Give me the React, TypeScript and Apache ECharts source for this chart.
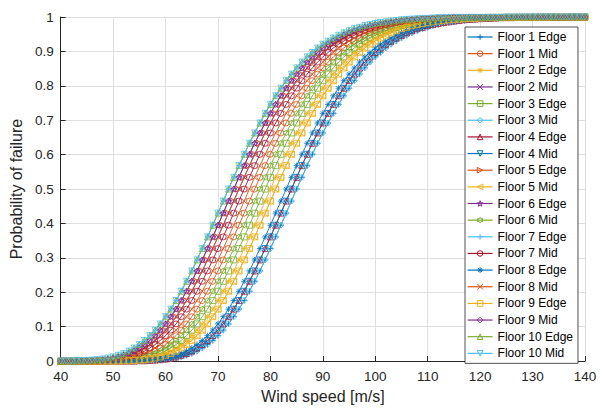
import React, { useEffect, useRef } from "react";
import * as echarts from "echarts";

const windSpeed = [
  40, 41, 42, 43, 44, 45, 46, 47, 48, 49, 50, 51, 52, 53, 54, 55, 56, 57, 58, 59,
  60, 61, 62, 63, 64, 65, 66, 67, 68, 69, 70, 71, 72, 73, 74, 75, 76, 77, 78, 79,
  80, 81, 82, 83, 84, 85, 86, 87, 88, 89, 90, 91, 92, 93, 94, 95, 96, 97, 98, 99,
  100, 101, 102, 103, 104, 105, 106, 107, 108, 109, 110, 111, 112, 113, 114, 115, 116, 117, 118, 119,
  120, 121, 122, 123, 124, 125, 126, 127, 128, 129, 130, 131, 132, 133, 134, 135, 136, 137, 138, 139, 140,
];

const seriesNames = [
  "Floor 1 Edge", "Floor 1 Mid", "Floor 2 Edge", "Floor 2 Mid", "Floor 3 Edge",
  "Floor 3 Mid", "Floor 4 Edge", "Floor 4 Mid", "Floor 5 Edge", "Floor 5 Mid",
  "Floor 6 Edge", "Floor 6 Mid", "Floor 7 Edge", "Floor 7 Mid", "Floor 8 Edge",
  "Floor 8 Mid", "Floor 9 Edge", "Floor 9 Mid", "Floor 10 Edge", "Floor 10 Mid",
];

const yTicks = [0, 0.1, 0.2, 0.3, 0.4, 0.5, 0.6, 0.7, 0.8, 0.9, 1];

// values, one per wind speed (40..140 m/s)
const floor1Edge = [
  0, 0, 0, 0, 0, 0, 0, 0, 0, 0, 0, 0, 0, 0,
  0, 0, 0.001, 0.001, 0.002, 0.003, 0.004, 0.006, 0.009, 0.012,
  0.017, 0.022, 0.029, 0.038, 0.048, 0.06, 0.074, 0.09, 0.108, 0.129,
  0.151, 0.176, 0.203, 0.232, 0.262, 0.294, 0.327, 0.361, 0.395, 0.43,
  0.465, 0.5, 0.534, 0.568, 0.601, 0.633, 0.663, 0.692, 0.72, 0.746,
  0.771, 0.793, 0.815, 0.834, 0.852, 0.869, 0.884, 0.897, 0.91, 0.921,
  0.93, 0.939, 0.947, 0.954, 0.96, 0.966, 0.97, 0.975, 0.978, 0.981,
  0.984, 0.986, 0.988, 0.99, 0.992, 0.993, 0.994, 0.995, 0.996, 0.996,
  0.997, 0.998, 0.998, 0.998, 0.999, 0.999, 0.999, 0.999, 0.999, 0.999,
  0.999, 0.999, 0.999, 0.999,
  1, 1, 1,
];
const floor1Mid = [
  0, 0, 0, 0, 0, 0,
  0, 0, 0.001, 0.001, 0.002, 0.003, 0.004, 0.006, 0.009, 0.012,
  0.017, 0.022, 0.029, 0.038, 0.048, 0.06, 0.074, 0.09, 0.108, 0.129,
  0.151, 0.176, 0.203, 0.232, 0.262, 0.294, 0.327, 0.361, 0.395, 0.43,
  0.465, 0.5, 0.534, 0.568, 0.601, 0.633, 0.663, 0.692, 0.72, 0.746,
  0.771, 0.793, 0.815, 0.834, 0.852, 0.869, 0.884, 0.897, 0.91, 0.921,
  0.93, 0.939, 0.947, 0.954, 0.96, 0.966, 0.97, 0.975, 0.978, 0.981,
  0.984, 0.986, 0.988, 0.99, 0.992, 0.993, 0.994, 0.995, 0.996, 0.996,
  0.997, 0.998, 0.998, 0.998, 0.999, 0.999, 0.999, 0.999, 0.999, 0.999,
  0.999, 0.999, 0.999, 0.999,
  1, 1, 1, 1, 1, 1, 1, 1, 1, 1, 1,
];
const floor2Edge = [
  0, 0, 0, 0, 0, 0, 0, 0, 0,
  0, 0, 0.001, 0.001, 0.002, 0.003, 0.004, 0.006, 0.009, 0.012,
  0.017, 0.022, 0.029, 0.038, 0.048, 0.06, 0.074, 0.09, 0.108, 0.129,
  0.151, 0.176, 0.203, 0.232, 0.262, 0.294, 0.327, 0.361, 0.395, 0.43,
  0.465, 0.5, 0.534, 0.568, 0.601, 0.633, 0.663, 0.692, 0.72, 0.746,
  0.771, 0.793, 0.815, 0.834, 0.852, 0.869, 0.884, 0.897, 0.91, 0.921,
  0.93, 0.939, 0.947, 0.954, 0.96, 0.966, 0.97, 0.975, 0.978, 0.981,
  0.984, 0.986, 0.988, 0.99, 0.992, 0.993, 0.994, 0.995, 0.996, 0.996,
  0.997, 0.998, 0.998, 0.998, 0.999, 0.999, 0.999, 0.999, 0.999, 0.999,
  0.999, 0.999, 0.999, 0.999,
  1, 1, 1, 1, 1, 1, 1, 1,
];
const floor2Mid = [
  0, 0, 0,
  0, 0, 0.001, 0.001, 0.002, 0.003, 0.004, 0.006, 0.009, 0.012,
  0.017, 0.022, 0.029, 0.038, 0.048, 0.06, 0.074, 0.09, 0.108, 0.129,
  0.151, 0.176, 0.203, 0.232, 0.262, 0.294, 0.327, 0.361, 0.395, 0.43,
  0.465, 0.5, 0.534, 0.568, 0.601, 0.633, 0.663, 0.692, 0.72, 0.746,
  0.771, 0.793, 0.815, 0.834, 0.852, 0.869, 0.884, 0.897, 0.91, 0.921,
  0.93, 0.939, 0.947, 0.954, 0.96, 0.966, 0.97, 0.975, 0.978, 0.981,
  0.984, 0.986, 0.988, 0.99, 0.992, 0.993, 0.994, 0.995, 0.996, 0.996,
  0.997, 0.998, 0.998, 0.998, 0.999, 0.999, 0.999, 0.999, 0.999, 0.999,
  0.999, 0.999, 0.999, 0.999,
  1, 1, 1, 1, 1, 1, 1, 1, 1, 1, 1, 1, 1, 1,
];
const floor3Edge = [
  0, 0, 0, 0, 0, 0, 0, 0,
  0, 0, 0.001, 0.001, 0.002, 0.003, 0.004, 0.006, 0.009, 0.012,
  0.017, 0.022, 0.029, 0.038, 0.048, 0.06, 0.074, 0.09, 0.108, 0.129,
  0.151, 0.176, 0.203, 0.232, 0.262, 0.294, 0.327, 0.361, 0.395, 0.43,
  0.465, 0.5, 0.534, 0.568, 0.601, 0.633, 0.663, 0.692, 0.72, 0.746,
  0.771, 0.793, 0.815, 0.834, 0.852, 0.869, 0.884, 0.897, 0.91, 0.921,
  0.93, 0.939, 0.947, 0.954, 0.96, 0.966, 0.97, 0.975, 0.978, 0.981,
  0.984, 0.986, 0.988, 0.99, 0.992, 0.993, 0.994, 0.995, 0.996, 0.996,
  0.997, 0.998, 0.998, 0.998, 0.999, 0.999, 0.999, 0.999, 0.999, 0.999,
  0.999, 0.999, 0.999, 0.999,
  1, 1, 1, 1, 1, 1, 1, 1, 1,
];
const floor3Mid = [
  0, 0, 0, 0, 0, 0, 0, 0, 0, 0, 0, 0, 0, 0,
  0, 0, 0.001, 0.001, 0.002, 0.003, 0.004, 0.006, 0.009, 0.012,
  0.017, 0.022, 0.029, 0.038, 0.048, 0.06, 0.074, 0.09, 0.108, 0.129,
  0.151, 0.176, 0.203, 0.232, 0.262, 0.294, 0.327, 0.361, 0.395, 0.43,
  0.465, 0.5, 0.534, 0.568, 0.601, 0.633, 0.663, 0.692, 0.72, 0.746,
  0.771, 0.793, 0.815, 0.834, 0.852, 0.869, 0.884, 0.897, 0.91, 0.921,
  0.93, 0.939, 0.947, 0.954, 0.96, 0.966, 0.97, 0.975, 0.978, 0.981,
  0.984, 0.986, 0.988, 0.99, 0.992, 0.993, 0.994, 0.995, 0.996, 0.996,
  0.997, 0.998, 0.998, 0.998, 0.999, 0.999, 0.999, 0.999, 0.999, 0.999,
  0.999, 0.999, 0.999, 0.999,
  1, 1, 1,
];
const floor4Edge = [
  0, 0, 0, 0, 0, 0, 0, 0, 0, 0, 0, 0, 0,
  0, 0, 0.001, 0.001, 0.002, 0.003, 0.004, 0.006, 0.009, 0.012,
  0.017, 0.022, 0.029, 0.038, 0.048, 0.06, 0.074, 0.09, 0.108, 0.129,
  0.151, 0.176, 0.203, 0.232, 0.262, 0.294, 0.327, 0.361, 0.395, 0.43,
  0.465, 0.5, 0.534, 0.568, 0.601, 0.633, 0.663, 0.692, 0.72, 0.746,
  0.771, 0.793, 0.815, 0.834, 0.852, 0.869, 0.884, 0.897, 0.91, 0.921,
  0.93, 0.939, 0.947, 0.954, 0.96, 0.966, 0.97, 0.975, 0.978, 0.981,
  0.984, 0.986, 0.988, 0.99, 0.992, 0.993, 0.994, 0.995, 0.996, 0.996,
  0.997, 0.998, 0.998, 0.998, 0.999, 0.999, 0.999, 0.999, 0.999, 0.999,
  0.999, 0.999, 0.999, 0.999,
  1, 1, 1, 1,
];
const floor4Mid = [
  0, 0, 0, 0, 0, 0, 0, 0, 0, 0, 0, 0, 0,
  0, 0, 0.001, 0.001, 0.002, 0.003, 0.004, 0.006, 0.009, 0.012,
  0.017, 0.022, 0.029, 0.038, 0.048, 0.06, 0.074, 0.09, 0.108, 0.129,
  0.151, 0.176, 0.203, 0.232, 0.262, 0.294, 0.327, 0.361, 0.395, 0.43,
  0.465, 0.5, 0.534, 0.568, 0.601, 0.633, 0.663, 0.692, 0.72, 0.746,
  0.771, 0.793, 0.815, 0.834, 0.852, 0.869, 0.884, 0.897, 0.91, 0.921,
  0.93, 0.939, 0.947, 0.954, 0.96, 0.966, 0.97, 0.975, 0.978, 0.981,
  0.984, 0.986, 0.988, 0.99, 0.992, 0.993, 0.994, 0.995, 0.996, 0.996,
  0.997, 0.998, 0.998, 0.998, 0.999, 0.999, 0.999, 0.999, 0.999, 0.999,
  0.999, 0.999, 0.999, 0.999,
  1, 1, 1, 1,
];
const floor5Edge = [
  0, 0, 0,
  0, 0, 0.001, 0.001, 0.002, 0.003, 0.004, 0.006, 0.009, 0.012,
  0.017, 0.022, 0.029, 0.038, 0.048, 0.06, 0.074, 0.09, 0.108, 0.129,
  0.151, 0.176, 0.203, 0.232, 0.262, 0.294, 0.327, 0.361, 0.395, 0.43,
  0.465, 0.5, 0.534, 0.568, 0.601, 0.633, 0.663, 0.692, 0.72, 0.746,
  0.771, 0.793, 0.815, 0.834, 0.852, 0.869, 0.884, 0.897, 0.91, 0.921,
  0.93, 0.939, 0.947, 0.954, 0.96, 0.966, 0.97, 0.975, 0.978, 0.981,
  0.984, 0.986, 0.988, 0.99, 0.992, 0.993, 0.994, 0.995, 0.996, 0.996,
  0.997, 0.998, 0.998, 0.998, 0.999, 0.999, 0.999, 0.999, 0.999, 0.999,
  0.999, 0.999, 0.999, 0.999,
  1, 1, 1, 1, 1, 1, 1, 1, 1, 1, 1, 1, 1, 1,
];
const floor5Mid = [
  0, 0, 0, 0, 0, 0, 0, 0, 0, 0,
  0, 0, 0.001, 0.001, 0.002, 0.003, 0.004, 0.006, 0.009, 0.012,
  0.017, 0.022, 0.029, 0.038, 0.048, 0.06, 0.074, 0.09, 0.108, 0.129,
  0.151, 0.176, 0.203, 0.232, 0.262, 0.294, 0.327, 0.361, 0.395, 0.43,
  0.465, 0.5, 0.534, 0.568, 0.601, 0.633, 0.663, 0.692, 0.72, 0.746,
  0.771, 0.793, 0.815, 0.834, 0.852, 0.869, 0.884, 0.897, 0.91, 0.921,
  0.93, 0.939, 0.947, 0.954, 0.96, 0.966, 0.97, 0.975, 0.978, 0.981,
  0.984, 0.986, 0.988, 0.99, 0.992, 0.993, 0.994, 0.995, 0.996, 0.996,
  0.997, 0.998, 0.998, 0.998, 0.999, 0.999, 0.999, 0.999, 0.999, 0.999,
  0.999, 0.999, 0.999, 0.999,
  1, 1, 1, 1, 1, 1, 1,
];
const floor6Edge = [
  0, 0,
  0, 0, 0.001, 0.001, 0.002, 0.003, 0.004, 0.006, 0.009, 0.012,
  0.017, 0.022, 0.029, 0.038, 0.048, 0.06, 0.074, 0.09, 0.108, 0.129,
  0.151, 0.176, 0.203, 0.232, 0.262, 0.294, 0.327, 0.361, 0.395, 0.43,
  0.465, 0.5, 0.534, 0.568, 0.601, 0.633, 0.663, 0.692, 0.72, 0.746,
  0.771, 0.793, 0.815, 0.834, 0.852, 0.869, 0.884, 0.897, 0.91, 0.921,
  0.93, 0.939, 0.947, 0.954, 0.96, 0.966, 0.97, 0.975, 0.978, 0.981,
  0.984, 0.986, 0.988, 0.99, 0.992, 0.993, 0.994, 0.995, 0.996, 0.996,
  0.997, 0.998, 0.998, 0.998, 0.999, 0.999, 0.999, 0.999, 0.999, 0.999,
  0.999, 0.999, 0.999, 0.999,
  1, 1, 1, 1, 1, 1, 1, 1, 1, 1, 1, 1, 1, 1, 1,
];
const floor6Mid = [
  0, 0, 0, 0, 0, 0, 0,
  0, 0, 0.001, 0.001, 0.002, 0.003, 0.004, 0.006, 0.009, 0.012,
  0.017, 0.022, 0.029, 0.038, 0.048, 0.06, 0.074, 0.09, 0.108, 0.129,
  0.151, 0.176, 0.203, 0.232, 0.262, 0.294, 0.327, 0.361, 0.395, 0.43,
  0.465, 0.5, 0.534, 0.568, 0.601, 0.633, 0.663, 0.692, 0.72, 0.746,
  0.771, 0.793, 0.815, 0.834, 0.852, 0.869, 0.884, 0.897, 0.91, 0.921,
  0.93, 0.939, 0.947, 0.954, 0.96, 0.966, 0.97, 0.975, 0.978, 0.981,
  0.984, 0.986, 0.988, 0.99, 0.992, 0.993, 0.994, 0.995, 0.996, 0.996,
  0.997, 0.998, 0.998, 0.998, 0.999, 0.999, 0.999, 0.999, 0.999, 0.999,
  0.999, 0.999, 0.999, 0.999,
  1, 1, 1, 1, 1, 1, 1, 1, 1, 1,
];
const floor7Edge = [
  0,
  0, 0, 0.001, 0.001, 0.002, 0.003, 0.004, 0.006, 0.009, 0.012,
  0.017, 0.022, 0.029, 0.038, 0.048, 0.06, 0.074, 0.09, 0.108, 0.129,
  0.151, 0.176, 0.203, 0.232, 0.262, 0.294, 0.327, 0.361, 0.395, 0.43,
  0.465, 0.5, 0.534, 0.568, 0.601, 0.633, 0.663, 0.692, 0.72, 0.746,
  0.771, 0.793, 0.815, 0.834, 0.852, 0.869, 0.884, 0.897, 0.91, 0.921,
  0.93, 0.939, 0.947, 0.954, 0.96, 0.966, 0.97, 0.975, 0.978, 0.981,
  0.984, 0.986, 0.988, 0.99, 0.992, 0.993, 0.994, 0.995, 0.996, 0.996,
  0.997, 0.998, 0.998, 0.998, 0.999, 0.999, 0.999, 0.999, 0.999, 0.999,
  0.999, 0.999, 0.999, 0.999,
  1, 1, 1, 1, 1, 1, 1, 1, 1, 1, 1, 1, 1, 1, 1, 1,
];
const floor7Mid = [
  0, 0, 0, 0,
  0, 0, 0.001, 0.001, 0.002, 0.003, 0.004, 0.006, 0.009, 0.012,
  0.017, 0.022, 0.029, 0.038, 0.048, 0.06, 0.074, 0.09, 0.108, 0.129,
  0.151, 0.176, 0.203, 0.232, 0.262, 0.294, 0.327, 0.361, 0.395, 0.43,
  0.465, 0.5, 0.534, 0.568, 0.601, 0.633, 0.663, 0.692, 0.72, 0.746,
  0.771, 0.793, 0.815, 0.834, 0.852, 0.869, 0.884, 0.897, 0.91, 0.921,
  0.93, 0.939, 0.947, 0.954, 0.96, 0.966, 0.97, 0.975, 0.978, 0.981,
  0.984, 0.986, 0.988, 0.99, 0.992, 0.993, 0.994, 0.995, 0.996, 0.996,
  0.997, 0.998, 0.998, 0.998, 0.999, 0.999, 0.999, 0.999, 0.999, 0.999,
  0.999, 0.999, 0.999, 0.999,
  1, 1, 1, 1, 1, 1, 1, 1, 1, 1, 1, 1, 1,
];
const floor8Edge = [
  0, 0, 0, 0, 0, 0, 0, 0, 0, 0, 0, 0,
  0, 0, 0.001, 0.001, 0.002, 0.003, 0.004, 0.006, 0.009, 0.012,
  0.017, 0.022, 0.029, 0.038, 0.048, 0.06, 0.074, 0.09, 0.108, 0.129,
  0.151, 0.176, 0.203, 0.232, 0.262, 0.294, 0.327, 0.361, 0.395, 0.43,
  0.465, 0.5, 0.534, 0.568, 0.601, 0.633, 0.663, 0.692, 0.72, 0.746,
  0.771, 0.793, 0.815, 0.834, 0.852, 0.869, 0.884, 0.897, 0.91, 0.921,
  0.93, 0.939, 0.947, 0.954, 0.96, 0.966, 0.97, 0.975, 0.978, 0.981,
  0.984, 0.986, 0.988, 0.99, 0.992, 0.993, 0.994, 0.995, 0.996, 0.996,
  0.997, 0.998, 0.998, 0.998, 0.999, 0.999, 0.999, 0.999, 0.999, 0.999,
  0.999, 0.999, 0.999, 0.999,
  1, 1, 1, 1, 1,
];
const floor8Mid = [
  0, 0, 0, 0, 0,
  0, 0, 0.001, 0.001, 0.002, 0.003, 0.004, 0.006, 0.009, 0.012,
  0.017, 0.022, 0.029, 0.038, 0.048, 0.06, 0.074, 0.09, 0.108, 0.129,
  0.151, 0.176, 0.203, 0.232, 0.262, 0.294, 0.327, 0.361, 0.395, 0.43,
  0.465, 0.5, 0.534, 0.568, 0.601, 0.633, 0.663, 0.692, 0.72, 0.746,
  0.771, 0.793, 0.815, 0.834, 0.852, 0.869, 0.884, 0.897, 0.91, 0.921,
  0.93, 0.939, 0.947, 0.954, 0.96, 0.966, 0.97, 0.975, 0.978, 0.981,
  0.984, 0.986, 0.988, 0.99, 0.992, 0.993, 0.994, 0.995, 0.996, 0.996,
  0.997, 0.998, 0.998, 0.998, 0.999, 0.999, 0.999, 0.999, 0.999, 0.999,
  0.999, 0.999, 0.999, 0.999,
  1, 1, 1, 1, 1, 1, 1, 1, 1, 1, 1, 1,
];
const floor9Edge = [
  0, 0, 0, 0, 0, 0, 0, 0, 0, 0,
  0, 0, 0.001, 0.001, 0.002, 0.003, 0.004, 0.006, 0.009, 0.012,
  0.017, 0.022, 0.029, 0.038, 0.048, 0.06, 0.074, 0.09, 0.108, 0.129,
  0.151, 0.176, 0.203, 0.232, 0.262, 0.294, 0.327, 0.361, 0.395, 0.43,
  0.465, 0.5, 0.534, 0.568, 0.601, 0.633, 0.663, 0.692, 0.72, 0.746,
  0.771, 0.793, 0.815, 0.834, 0.852, 0.869, 0.884, 0.897, 0.91, 0.921,
  0.93, 0.939, 0.947, 0.954, 0.96, 0.966, 0.97, 0.975, 0.978, 0.981,
  0.984, 0.986, 0.988, 0.99, 0.992, 0.993, 0.994, 0.995, 0.996, 0.996,
  0.997, 0.998, 0.998, 0.998, 0.999, 0.999, 0.999, 0.999, 0.999, 0.999,
  0.999, 0.999, 0.999, 0.999,
  1, 1, 1, 1, 1, 1, 1,
];
const floor9Mid = [
  0, 0,
  0, 0, 0.001, 0.001, 0.002, 0.003, 0.004, 0.006, 0.009, 0.012,
  0.017, 0.022, 0.029, 0.038, 0.048, 0.06, 0.074, 0.09, 0.108, 0.129,
  0.151, 0.176, 0.203, 0.232, 0.262, 0.294, 0.327, 0.361, 0.395, 0.43,
  0.465, 0.5, 0.534, 0.568, 0.601, 0.633, 0.663, 0.692, 0.72, 0.746,
  0.771, 0.793, 0.815, 0.834, 0.852, 0.869, 0.884, 0.897, 0.91, 0.921,
  0.93, 0.939, 0.947, 0.954, 0.96, 0.966, 0.97, 0.975, 0.978, 0.981,
  0.984, 0.986, 0.988, 0.99, 0.992, 0.993, 0.994, 0.995, 0.996, 0.996,
  0.997, 0.998, 0.998, 0.998, 0.999, 0.999, 0.999, 0.999, 0.999, 0.999,
  0.999, 0.999, 0.999, 0.999,
  1, 1, 1, 1, 1, 1, 1, 1, 1, 1, 1, 1, 1, 1, 1,
];
const floor10Edge = [
  0,
  0, 0, 0.001, 0.001, 0.002, 0.003, 0.004, 0.006, 0.009, 0.012,
  0.017, 0.022, 0.029, 0.038, 0.048, 0.06, 0.074, 0.09, 0.108, 0.129,
  0.151, 0.176, 0.203, 0.232, 0.262, 0.294, 0.327, 0.361, 0.395, 0.43,
  0.465, 0.5, 0.534, 0.568, 0.601, 0.633, 0.663, 0.692, 0.72, 0.746,
  0.771, 0.793, 0.815, 0.834, 0.852, 0.869, 0.884, 0.897, 0.91, 0.921,
  0.93, 0.939, 0.947, 0.954, 0.96, 0.966, 0.97, 0.975, 0.978, 0.981,
  0.984, 0.986, 0.988, 0.99, 0.992, 0.993, 0.994, 0.995, 0.996, 0.996,
  0.997, 0.998, 0.998, 0.998, 0.999, 0.999, 0.999, 0.999, 0.999, 0.999,
  0.999, 0.999, 0.999, 0.999,
  1, 1, 1, 1, 1, 1, 1, 1, 1, 1, 1, 1, 1, 1, 1, 1,
];
const floor10Mid = [
  0,
  0, 0, 0.001, 0.001, 0.002, 0.003, 0.004, 0.006, 0.009, 0.012,
  0.017, 0.022, 0.029, 0.038, 0.048, 0.06, 0.074, 0.09, 0.108, 0.129,
  0.151, 0.176, 0.203, 0.232, 0.262, 0.294, 0.327, 0.361, 0.395, 0.43,
  0.465, 0.5, 0.534, 0.568, 0.601, 0.633, 0.663, 0.692, 0.72, 0.746,
  0.771, 0.793, 0.815, 0.834, 0.852, 0.869, 0.884, 0.897, 0.91, 0.921,
  0.93, 0.939, 0.947, 0.954, 0.96, 0.966, 0.97, 0.975, 0.978, 0.981,
  0.984, 0.986, 0.988, 0.99, 0.992, 0.993, 0.994, 0.995, 0.996, 0.996,
  0.997, 0.998, 0.998, 0.998, 0.999, 0.999, 0.999, 0.999, 0.999, 0.999,
  0.999, 0.999, 0.999, 0.999,
  1, 1, 1, 1, 1, 1, 1, 1, 1, 1, 1, 1, 1, 1, 1, 1,
];

const seriesValues = [
  floor1Edge, floor1Mid, floor2Edge, floor2Mid, floor3Edge,
  floor3Mid, floor4Edge, floor4Mid, floor5Edge, floor5Mid,
  floor6Edge, floor6Mid, floor7Edge, floor7Mid, floor8Edge,
  floor8Mid, floor9Edge, floor9Mid, floor10Edge, floor10Mid,
];

const COLORS = ["#0072BD", "#D95319", "#EDB120", "#7E2F8E", "#77AC30", "#4DBEEE", "#A2142F"];

const MARKERS = [
  "path://M5,0L5,10M0,5L10,5", // +
  "path://M10,5A5,5,0,1,1,0,5A5,5,0,1,1,10,5Z", // o
  "path://M5,0L5,10M0,5L10,5M1.5,1.5L8.5,8.5M8.5,1.5L1.5,8.5", // *
  "path://M0,0L10,10M10,0L0,10", // x
  "path://M0,0L10,0L10,10L0,10Z", // square
  "path://M5,0L10,5L5,10L0,5Z", // diamond
  "path://M5,0L10,10L0,10Z", // ^
  "path://M0,0L10,0L5,10Z", // v
  "path://M0,0L10,5L0,10Z", // >
  "path://M10,0L0,5L10,10Z", // <
  "path://M5,0L6.12,3.45L9.76,3.45L6.82,5.59L7.94,9.05L5,6.91L2.06,9.05L3.18,5.59L0.24,3.45L3.88,3.45Z", // pentagram
  "path://M5,0L6.44,2.5L9.33,2.5L7.89,5L9.33,7.5L6.44,7.5L5,10L3.56,7.5L0.67,7.5L2.11,5L0.67,2.5L3.56,2.5Z", // hexagram
];

const FONT = "'Liberation Sans', Arial, Helvetica, sans-serif";
const AXIS_COLOR = "#262626";

export default function App() {
  const ref = useRef<HTMLDivElement>(null);

  useEffect(() => {
    if (!ref.current) return;
    const chart = echarts.init(ref.current, null, { renderer: "svg" });

    const series = seriesNames.map((name, i) => {
      const color = COLORS[i % COLORS.length];
      return {
        name,
        type: "line",
        data: windSpeed.map((x, j) => [x, seriesValues[i][j]]),
        symbol: MARKERS[i % MARKERS.length],
        symbolSize: 6,
        showSymbol: true,
        showAllSymbol: true,
        silent: true,
        itemStyle: { color: "rgba(0,0,0,0)", borderColor: color, borderWidth: 0.8 },
        lineStyle: { color, width: 0.9 },
        emphasis: { disabled: true },
      };
    });

    const legendData = seriesNames.map((name, i) => {
      const color = COLORS[i % COLORS.length];
      return {
        name,
        itemStyle: { color: "rgba(0,0,0,0)", borderColor: color, borderWidth: 1 },
        lineStyle: { color, width: 1.2 },
      };
    });

    chart.setOption({
      animation: false,
      backgroundColor: "#ffffff",
      textStyle: { fontFamily: FONT },
      grid: { left: 58, right: 18, top: 17, bottom: 45.5, containLabel: false },
      xAxis: {
        type: "value",
        min: 40,
        max: 140,
        interval: 10,
        name: "Wind speed [m/s]",
        nameLocation: "middle",
        nameGap: 26,
        nameTextStyle: { fontSize: 16, color: AXIS_COLOR, fontFamily: FONT },
        axisLine: { show: true, lineStyle: { color: AXIS_COLOR, width: 1 } },
        axisTick: { show: true, inside: true, length: 5, lineStyle: { color: AXIS_COLOR } },
        axisLabel: { fontSize: 13.5, color: AXIS_COLOR, margin: 8, fontFamily: FONT },
        splitLine: { show: true, lineStyle: { color: "#dfdfdf", width: 1 } },
      },
      yAxis: {
        type: "value",
        min: 0,
        max: 1,
        interval: 0.1,
        name: "Probability of failure",
        nameLocation: "middle",
        nameGap: 29,
        nameTextStyle: { fontSize: 16, color: AXIS_COLOR, fontFamily: FONT },
        axisLine: { show: true, lineStyle: { color: AXIS_COLOR, width: 1 } },
        axisTick: { show: true, inside: true, length: 5, lineStyle: { color: AXIS_COLOR } },
        axisLabel: {
          fontSize: 13.5,
          color: AXIS_COLOR,
          margin: 7,
          fontFamily: FONT,
          formatter: (v: number) => {
            const t = yTicks.find((k) => Math.abs(k - v) < 1e-6);
            return String(t !== undefined ? t : v);
          },
        },
        splitLine: { show: true, lineStyle: { color: "#dfdfdf", width: 1 } },
      },
      legend: {
        orient: "vertical",
        left: 465,
        top: 27,
        data: legendData,
        backgroundColor: "#ffffff",
        borderColor: AXIS_COLOR,
        borderWidth: 0.8,
        borderRadius: 0,
        padding: [4, 5, 4, 2],
        itemGap: 4.65,
        itemWidth: 25,
        itemHeight: 7,
        textStyle: { fontSize: 12, color: "#000", fontFamily: FONT },
        selectedMode: false,
      },
      series,
    });

    return () => chart.dispose();
  }, []);

  return (
    <div
      ref={ref}
      style={{ position: "absolute", left: 0, top: 0, width: 603, height: 409 }}
    />
  );
}
